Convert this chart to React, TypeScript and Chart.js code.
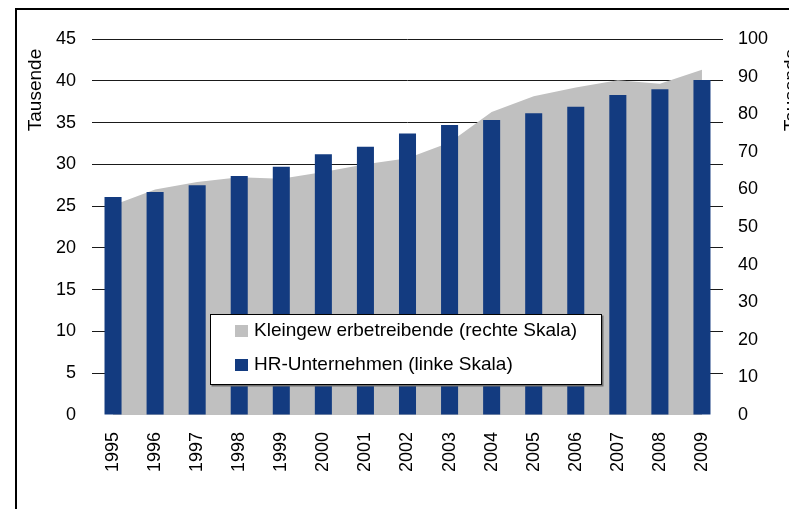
import { useEffect, useRef } from 'react';
import { Chart, registerables } from 'chart.js';

Chart.register(...registerables);

const categories = ['1995', '1996', '1997', '1998', '1999', '2000', '2001', '2002', '2003', '2004', '2005', '2006', '2007', '2008', '2009'];
// HR-Unternehmen, left scale (thousands)
const hrUnternehmen = [26.1, 26.7, 27.5, 28.6, 29.7, 31.2, 32.1, 33.7, 34.7, 35.3, 36.1, 36.9, 38.3, 39.0, 40.1];
// Kleingewerbetreibende, right scale (thousands)
const kleingewerbetreibende = [55.8, 60.0, 62.0, 63.2, 62.8, 64.6, 66.7, 68.3, 72.5, 80.6, 84.8, 87.1, 89.0, 88.1, 91.8];
const seriesLabels = ['Kleingew erbetreibende (rechte Skala)', 'HR-Unternehmen (linke Skala)'];
const axisTitle = 'Tausende';
const leftScale = [0, 45, 5];
const rightScale = [0, 100, 10];

const FONT = "'Liberation Sans', Arial, sans-serif";
const BLUE = '#133B80';
const GREY = '#C0C0C0';

const overlayPlugin = {
  id: 'overlay',
  afterDraw(chart: any) {
    const ctx = chart.ctx as CanvasRenderingContext2D;
    ctx.save();
    // axis titles
    ctx.font = `19px ${FONT}`;
    ctx.fillStyle = '#000';
    ctx.textAlign = 'center';
    ctx.textBaseline = 'alphabetic';
    const titlePos = [
      [32.7, 82],
      [789, 82],
    ];
    titlePos.forEach(([x, y]) => {
      ctx.save();
      ctx.translate(x, y);
      ctx.rotate(-Math.PI / 2);
      ctx.fillText(axisTitle, 0, 0);
      ctx.restore();
    });
    // legend box
    const bx = 202.5, by = 306.5, bw = 391, bh = 70;
    ctx.fillStyle = '#707070';
    ctx.fillRect(bx + 1, by + 1, bw + 1, bh + 1);
    ctx.fillStyle = '#fff';
    ctx.fillRect(bx, by, bw, bh);
    ctx.strokeStyle = '#000';
    ctx.lineWidth = 1;
    ctx.strokeRect(bx, by, bw, bh);
    const colors = [GREY, BLUE];
    const rows = [
      [317, 328],
      [351, 362],
    ];
    ctx.font = `19px ${FONT}`;
    ctx.textAlign = 'left';
    seriesLabels.forEach((label, i) => {
      ctx.fillStyle = colors[i];
      ctx.fillRect(227, rows[i][0], 13, 12);
      ctx.fillStyle = '#000';
      ctx.fillText(label, 246, rows[i][1]);
    });
    ctx.restore();
  },
};

export default function App() {
  const ref = useRef<HTMLCanvasElement>(null);
  useEffect(() => {
    if (!ref.current) return;
    const tickFont = { family: FONT, size: 18 };
    const chart = new Chart(ref.current, {
      type: 'bar',
      data: {
        labels: categories,
        datasets: [
          {
            type: 'bar',
            label: seriesLabels[1],
            data: hrUnternehmen,
            backgroundColor: BLUE,
            borderWidth: 0,
            yAxisID: 'y',
            categoryPercentage: 1,
            barPercentage: 0.405,
          },
          {
            type: 'line',
            label: seriesLabels[0],
            data: kleingewerbetreibende,
            backgroundColor: GREY,
            borderWidth: 0,
            borderColor: GREY,
            pointRadius: 0,
            fill: 'origin',
            tension: 0,
            yAxisID: 'y1',
          } as any,
        ],
      },
      options: {
        responsive: false,
        animation: false,
        devicePixelRatio: 1,
        layout: { padding: { top: 31, left: 0, right: 0, bottom: 0 } },
        plugins: { legend: { display: false }, tooltip: { enabled: false } },
        scales: {
          x: {
            offset: true,
            grid: { display: false, drawTicks: false },
            border: { display: false },
            ticks: {
              font: tickFont,
              color: '#000',
              minRotation: 90,
              maxRotation: 90,
              autoSkip: false,
              padding: 17,
            },
            afterFit(scale: any) {
              scale.height = 94;
            },
          },
          y: {
            position: 'left',
            min: leftScale[0],
            max: leftScale[1],
            grid: {
              drawTicks: false,
              color: (c: any) => (c.tick && c.tick.value === 0 ? 'rgba(0,0,0,0)' : '#1a1a1a'),
            },
            border: { display: false },
            ticks: { stepSize: leftScale[2], font: tickFont, color: '#000', padding: 16 },
            afterFit(scale: any) {
              scale.width = 84;
            },
          },
          y1: {
            position: 'right',
            min: rightScale[0],
            max: rightScale[1],
            grid: { display: false, drawTicks: false },
            border: { display: false },
            ticks: { stepSize: rightScale[2], font: tickFont, color: '#000', padding: 15 },
            afterFit(scale: any) {
              scale.width = 66;
            },
          },
        },
      },
      plugins: [overlayPlugin],
    } as any);
    return () => chart.destroy();
  }, []);

  return (
    <div style={{ position: 'fixed', left: 8, top: 8, width: 781, height: 501, overflow: 'hidden', background: '#fff' }}>
      <canvas ref={ref} width={781} height={501} style={{ position: 'absolute', left: 0, top: 0, width: 781, height: 501 }} />
      <div
        style={{
          position: 'absolute',
          left: 7,
          top: 0,
          width: 900,
          height: 600,
          border: '2px solid #000',
          boxSizing: 'border-box',
          pointerEvents: 'none',
        }}
      />
    </div>
  );
}
